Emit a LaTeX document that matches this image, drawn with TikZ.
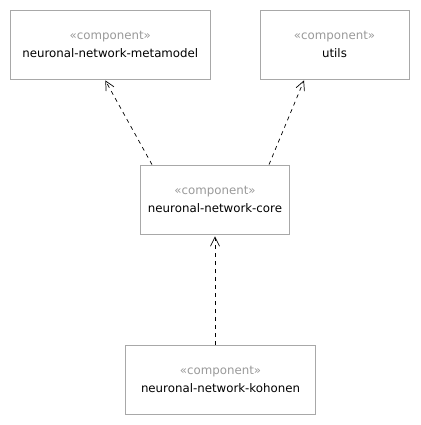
\documentclass[tikz,border=0pt]{standalone}
\usepackage{fontspec}
\setmainfont{DejaVu Sans}
\usetikzlibrary{arrows.meta}
\definecolor{boxgray}{rgb}{0.66,0.66,0.66}
\definecolor{stereogray}{rgb}{0.6,0.6,0.6}
\newcommand{\stereo}{\textcolor{stereogray}{«component»}}

\begin{document}
\begin{tikzpicture}[%
  x=1pt, y=-1pt,
  >={Straight Barb[length=9pt,width=9pt]},
  comp/.style={draw=boxgray, line width=0.8pt, rectangle, align=center,
    minimum height=69pt, inner sep=0pt, font=\fontsize{11.8}{18}\selectfont},
  dep/.style={->, dash pattern=on 4pt off 4pt, line width=0.7pt},
]

  \useasboundingbox (0,0) rectangle (420,425);

  \node[comp, minimum width=200pt] (meta) at (110.3, 44.5)
    {\stereo\\neuronal-network-metamodel};
  \node[comp, minimum width=149pt] (utils) at (334.5, 44.5)
    {\stereo\\utils};
  \node[comp, minimum width=149pt] (core) at (215, 199.5)
    {\stereo\\neuronal-network-core};
  \node[comp, minimum width=190pt] (kohonen) at (220.5, 379.5)
    {\stereo\\neuronal-network-kohonen};

  \draw[dep] ([xshift=-63pt]core.north) -- ([xshift=-5pt,yshift=-1pt]meta.south);
  \draw[dep] ([xshift=54pt]core.north) -- ([xshift=-30.5pt,yshift=-1pt]utils.south);
  \draw[dep] ([xshift=-5.5pt]kohonen.north) -- ([yshift=-2pt]core.south);

\end{tikzpicture}
\end{document}
